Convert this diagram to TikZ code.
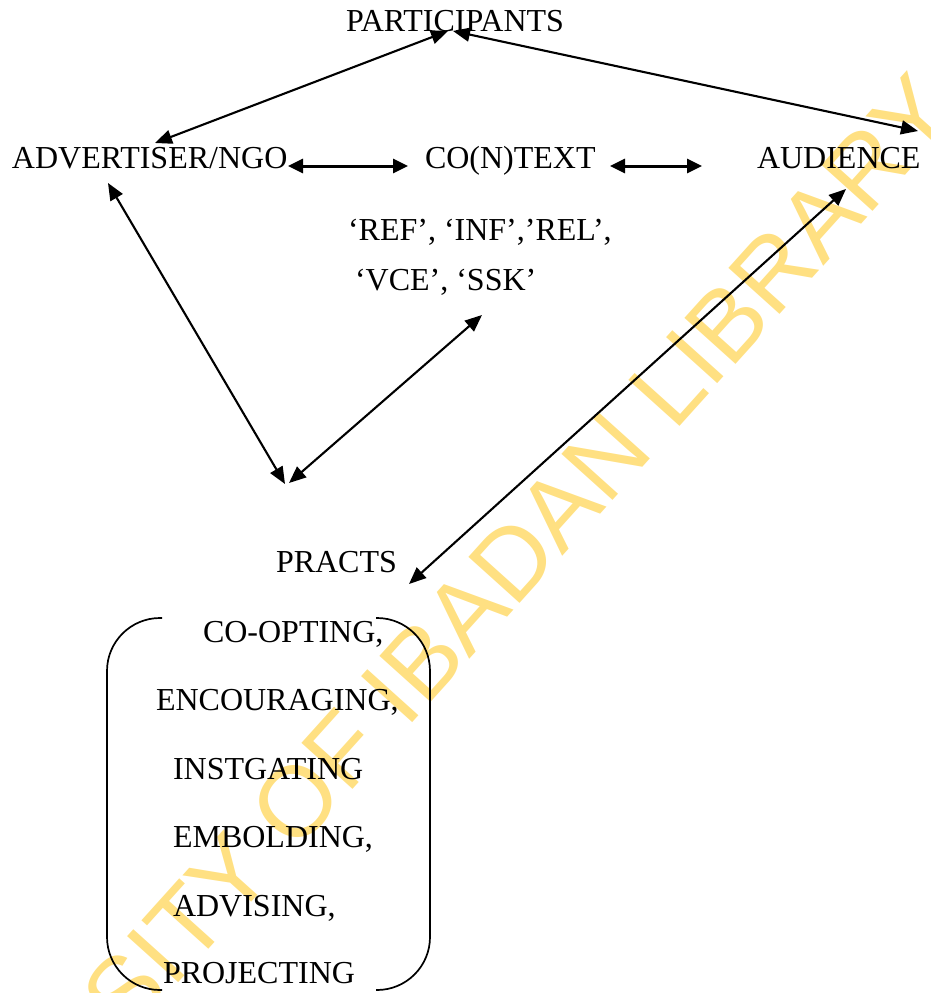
\documentclass[tikz,border=0pt]{standalone}
\usepackage{fontspec}
\setmainfont{Liberation Serif}
\newfontfamily\wmfont{Liberation Sans}
\usetikzlibrary{arrows.meta}
\definecolor{wmyellow}{RGB}{255,224,130}
\tikzset{
  txt/.style={inner sep=0pt, outer sep=0pt, anchor=base west, font=\fontsize{32}{38}\selectfont},
  conn/.style={line width=2.1pt, {Triangle[length=17pt,width=14pt]}-{Triangle[length=17pt,width=14pt]}},
  hconn/.style={line width=3pt, {Triangle[length=15pt,width=14pt]}-{Triangle[length=15pt,width=14pt]}},
  bracket/.style={line width=1.7pt, rounded corners=53pt}
}
\begin{document}
\begin{tikzpicture}[x=1pt,y=-1pt]
\useasboundingbox (0,0) rectangle (930,993);
% watermark
\begin{scope}
\clip (0,0) rectangle (930,993);
\node[inner sep=0pt, anchor=base west, rotate=48, text=wmyellow,
      font=\wmfont\fontsize{100}{110}\selectfont] (wm) at (-125,1320) {UNIVERSITY OF IBADAN LIBRARY};
\end{scope}
% texts
\node[txt] (part) at (346,31) {PARTICIPANTS};
\node[txt] (adv) at (12,168) {ADVERTISER/NGO};
\node[txt] (con) at (425,168) {CO(N)TEXT};
\node[txt] (aud) at (757,168) {AUDIENCE};
\node[txt] (ref) at (348,240) {‘REF’, ‘INF’,’REL’,};
\node[txt] (vce) at (355,290) {‘VCE’, ‘SSK’};
\node[txt] (pra) at (276,572) {PRACTS};
\node[txt] (l1) at (203,642) {CO-OPTING,};
\node[txt] (l2) at (156,710) {ENCOURAGING,};
\node[txt] (l3) at (173,779) {INSTGATING};
\node[txt] (l4) at (173,847) {EMBOLDING,};
\node[txt] (l5) at (173,916) {ADVISING,};
\node[txt] (l6) at (163,983) {PROJECTING};
% connector end points
\coordinate (partL) at (448,31);
\coordinate (partR) at (453,31);
\coordinate (advT) at (155,143);
\coordinate (audT) at (918,131);
\coordinate (advR) at (288,166);
\coordinate (conL) at (408,166);
\coordinate (conR) at (610,166);
\coordinate (audL) at (702,166);
\coordinate (advB) at (108,183);
\coordinate (junL) at (285,484);
\coordinate (junR) at (289,483);
\coordinate (ssk) at (482,315);
\coordinate (audB) at (846,189);
\coordinate (praR) at (409,584);
% connectors
\draw[conn] (partL) -- (advT);
\draw[conn] (partR) -- (audT);
\draw[hconn] (advR) -- (conL);
\draw[hconn] (conR) -- (audL);
\draw[conn] (advB) -- (junL);
\draw[conn] (ssk) -- (junR);
\draw[conn] (audB) -- (praR);
% bracket pair
\draw[bracket] (162,618) -- (107,618) -- (107,990) -- (162,990);
\draw[bracket] (376,618) -- (430,618) -- (430,990) -- (376,990);
\end{tikzpicture}
\end{document}
